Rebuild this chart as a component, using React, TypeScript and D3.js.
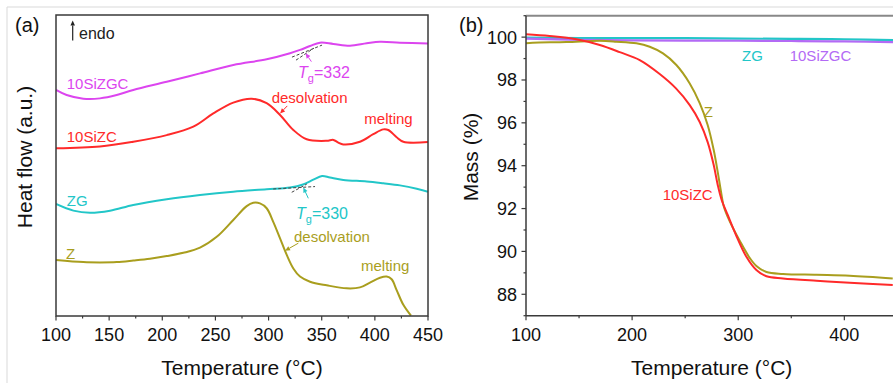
import React from 'react';
import * as d3 from 'd3';

const W = 893;
const H = 383;
const FONT = "'Liberation Sans', Arial, Helvetica, sans-serif";

// ---------- Panel (a): DSC heat flow (a.u.) vs temperature (°C) ----------
const tempTicksA = [100, 150, 200, 250, 300, 350, 400, 450];
const tempMinorA = [125, 175, 225, 275, 325, 375, 425];

const dsc10SiZGC: [number, number][] = [
  [100, 75.1], [110, 73.4], [125.7, 72.2], [141.4, 72.3], [157.1, 73.4], [172.7, 75.1],
  [204.2, 77.8], [235.5, 80.6], [266.8, 83.4], [298.2, 85.3], [320.2, 87.3], [329.6, 88.4],
  [339, 89.7], [348.4, 90.8], [360.9, 90.4], [376.6, 89.8], [392.3, 90.6], [404.8, 91.1],
  [423.6, 90.8], [450, 90.5],
];
const dsc10SiZC: [number, number][] = [
  [100, 55.7], [141.4, 56.3], [172.7, 57.9], [204.2, 60.1], [229.2, 62.9], [248, 67.3],
  [266.8, 70.9], [284.1, 72.2], [298.2, 70.7], [310.8, 66.8], [323.3, 61.8], [335.9, 58.7],
  [354.7, 58.2], [361, 58.5], [365.6, 57.6], [370.3, 57.0], [386, 57.9], [398.5, 60.4],
  [407.9, 62.0], [412.6, 61.8], [420.5, 59.4], [426.8, 57.9], [450, 57.8],
];
const dscZG: [number, number][] = [
  [100, 37.2], [116.3, 35.0], [132, 34.3], [150.8, 35.0], [172.7, 36.9], [204.2, 38.8],
  [235.5, 40.2], [266.8, 41.3], [298.2, 42.1], [320.2, 42.7], [332.4, 43.7], [342.1, 45.3],
  [350.3, 46.5], [357.8, 46.0], [370.3, 45.2], [392.3, 44.7], [407.9, 44.1], [423.6, 43.4],
  [439.4, 42.3], [450, 41.3],
];
const dscZ: [number, number][] = [
  [100, 18.6], [125.7, 17.9], [141.4, 17.8], [157.1, 17.9], [172.7, 18.4], [188.4, 19.0],
  [204.2, 19.9], [219.8, 21.0], [235.5, 22.7], [251.2, 26.3], [266.8, 31.9], [279.4, 36.5],
  [285.6, 37.6], [291.9, 37.4], [298.2, 35.8], [304.4, 31.3], [310.8, 25.8], [317.1, 20.3],
  [323.3, 15.8], [329.6, 13.1], [339, 11.4], [354.7, 10.2], [373.5, 9.2], [386, 9.5],
  [395.4, 11.1], [404.8, 12.7], [411.1, 13.1], [415.8, 12.2], [420.5, 8.6], [426.8, 3.7],
  [434, 0.1],
];

// ---------- Panel (b): TGA mass (%) vs temperature (°C) ----------
const tempTicksB = [100, 200, 300, 400];
const tempMinorB = [150, 250, 350, 450];
const massTicks = [88, 90, 92, 94, 96, 98, 100];
const massMinor = [87, 89, 91, 93, 95, 97, 99, 101];

const tga10SiZC: [number, number][] = [
  [100, 100.13], [122.3, 100.05], [147.5, 99.9], [169.5, 99.63], [188.3, 99.3], [207.2, 98.93],
  [226, 98.28], [241.1, 97.62], [254.3, 96.83], [263.7, 96.04], [271.2, 95.1], [276.9, 94.03],
  [280.7, 93.1], [284.4, 92.4], [290.1, 91.7], [298.3, 90.72], [307.7, 89.75], [317.1, 89.13],
  [326.6, 88.84], [342.2, 88.74], [373.7, 88.63], [405.1, 88.54], [445.6, 88.43],
];
const tgaZ: [number, number][] = [
  [100, 99.71], [106.3, 99.74], [138, 99.77], [169.5, 99.83], [185.2, 99.79], [204.1, 99.71],
  [216.6, 99.55], [229.1, 99.24], [241.7, 98.7], [254.3, 97.84], [263.7, 96.92], [271.2, 95.9],
  [276.9, 94.73], [280.7, 93.7], [283.5, 92.87], [286.4, 92.1], [292, 91.4], [301.4, 90.5],
  [310.9, 89.69], [317.1, 89.32], [326.6, 89.04], [342.2, 88.95], [373.7, 88.91], [405.1, 88.87],
  [445.6, 88.74],
];
const tgaZG: [number, number][] = [
  [100, 99.98], [150, 99.96], [200, 99.95], [250, 99.95], [300, 99.93], [350, 99.92],
  [400, 99.9], [450, 99.86],
];
const tga10SiZGC: [number, number][] = [
  [100, 99.93], [150, 99.87], [200, 99.85], [250, 99.84], [300, 99.83], [350, 99.82],
  [400, 99.8], [450, 99.76],
];

const C_MAG = '#dc45ef';
const C_RED = '#ff2a2a';
const C_CYAN = '#22c6c8';
const C_OLIVE = '#a99e1e';
const C_PURPLE = '#b36af5';
const AXIS = '#3a3a3a';

function Arrow({ x1, y1, x2, y2, color, head = 5, width = 1 }: any) {
  const ang = Math.atan2(y2 - y1, x2 - x1);
  const hw = head * 0.45;
  const bx = x2 - head * Math.cos(ang);
  const by = y2 - head * Math.sin(ang);
  const p1 = [bx + hw * Math.sin(ang), by - hw * Math.cos(ang)];
  const p2 = [bx - hw * Math.sin(ang), by + hw * Math.cos(ang)];
  return (
    <g>
      <line x1={x1} y1={y1} x2={bx} y2={by} stroke={color} strokeWidth={width} />
      <polygon points={`${x2},${y2} ${p1[0]},${p1[1]} ${p2[0]},${p2[1]}`} fill={color} />
    </g>
  );
}

function Tg({ x, y, value, color }: any) {
  return (
    <text x={x} y={y} fill={color} fontSize={16} fontFamily={FONT}>
      <tspan fontStyle="italic">T</tspan>
      <tspan fontSize={11} dy={4}>g</tspan>
      <tspan dy={-4}>={value}</tspan>
    </text>
  );
}

export default function App() {
  const xA = d3.scaleLinear().domain([100, 450]).range([56, 428]);
  const yA = d3.scaleLinear().domain([0, 100]).range([316, 15]);
  const xB = d3.scaleLinear().domain([100, 450]).range([526, 897.4]);
  const yB = d3.scaleLinear().domain([87, 101]).range([315.7, 15.7]);

  const curve = d3.curveCatmullRom.alpha(0.5);
  const lineA = d3.line<[number, number]>().x((d) => xA(d[0])).y((d) => yA(d[1])).curve(curve);
  const lineB = d3.line<[number, number]>().x((d) => xB(d[0])).y((d) => yB(d[1])).curve(curve);

  const aL = xA(100), aR = xA(450), aT = yA(100), aB = yA(0);
  const bL = xB(100), bR = W, bT = yB(101), bB = yB(87);

  return (
    <svg width={W} height={H} style={{ position: 'absolute', left: 0, top: 0, background: '#fff' }} fontFamily={FONT}>
      <rect x={0} y={0} width={W} height={H} fill="#fff" />
      {/* image border lines */}
      <line x1={7} y1={7} x2={W} y2={7} stroke="#d9d9d9" strokeWidth={1} />
      <line x1={7} y1={7} x2={7} y2={H} stroke="#d9d9d9" strokeWidth={1} />

      <defs>
        <clipPath id="clipA"><rect x={aL} y={aT} width={aR - aL} height={aB - aT} /></clipPath>
        <clipPath id="clipB"><rect x={bL} y={bT} width={bR - bL} height={bB - bT} /></clipPath>
      </defs>

      {/* ================= Panel (a) ================= */}
      <text x={15} y={32} fontSize={20} fill="#111">(a)</text>
      <g clipPath="url(#clipA)">
        <path d={lineA(dsc10SiZGC) || ''} fill="none" stroke={C_MAG} strokeWidth={2} />
        <path d={lineA(dsc10SiZC) || ''} fill="none" stroke={C_RED} strokeWidth={2} />
        <path d={lineA(dscZG) || ''} fill="none" stroke={C_CYAN} strokeWidth={2} />
        <path d={lineA(dscZ) || ''} fill="none" stroke={C_OLIVE} strokeWidth={2} />
      </g>
      {/* Tg tangents */}
      <line x1={xA(322)} y1={yA(86)} x2={xA(350.3)} y2={yA(90)} stroke="#444" strokeWidth={1} strokeDasharray="3,2" />
      <line x1={xA(325.8)} y1={yA(85)} x2={xA(342.7)} y2={yA(89)} stroke="#444" strokeWidth={1} strokeDasharray="3,2" />
      <line x1={xA(304.4)} y1={yA(42.2)} x2={xA(343.7)} y2={yA(43)} stroke="#444" strokeWidth={1} strokeDasharray="3,2" />
      <line x1={xA(321.8)} y1={yA(41.1)} x2={xA(335.9)} y2={yA(43.8)} stroke="#444" strokeWidth={1} strokeDasharray="3,2" />
      <Arrow x1={xA(340.3)} y1={yA(84.5)} x2={xA(334.9)} y2={yA(87.3)} color={C_MAG} />
      <Arrow x1={xA(337.4)} y1={yA(39.1)} x2={xA(332.7)} y2={yA(42.7)} color={C_CYAN} />
      <Arrow x1={xA(317.6)} y1={yA(69.8)} x2={xA(310.8)} y2={yA(67.3)} color={C_RED} />
      <Arrow x1={xA(328)} y1={yA(24.2)} x2={xA(315.5)} y2={yA(21.7)} color={C_OLIVE} />

      <Tg x={xA(327.7)} y={yA(79)} value={332} color={C_MAG} />
      <Tg x={xA(325.8)} y={yA(32.2)} value={330} color={C_CYAN} />

      <g fontSize={15}>
        <text x={xA(110.1)} y={yA(75.4)} fill={C_MAG}>10SiZGC</text>
        <text x={xA(110.1)} y={yA(57.9)} fill={C_RED}>10SiZC</text>
        <text x={xA(110.1)} y={yA(36.5)} fill={C_CYAN}>ZG</text>
        <text x={xA(109.5)} y={yA(18.9)} fill={C_OLIVE}>Z</text>
        <text x={xA(302.9)} y={yA(70.7)} fill={C_RED}>desolvation</text>
        <text x={xA(390.1)} y={yA(63.8)} fill={C_RED}>melting</text>
        <text x={xA(323.9)} y={yA(24.7)} fill={C_OLIVE}>desolvation</text>
        <text x={xA(387)} y={yA(15)} fill={C_OLIVE}>melting</text>
      </g>

      {/* endo arrow */}
      <Arrow x1={72.7} y1={40.5} x2={72.7} y2={20.5} color="#222" head={5} width={1.2} />
      <text x={79} y={38.5} fontSize={16} fill="#222">endo</text>

      {/* frame */}
      <rect x={aL} y={aT} width={aR - aL} height={aB - aT} fill="none" stroke={AXIS} strokeWidth={1.5} />
      {tempTicksA.map((t) => (
        <g key={'ta' + t}>
          <line x1={xA(t)} x2={xA(t)} y1={aB} y2={aB + 4.5} stroke={AXIS} strokeWidth={1.2} />
          <text x={xA(t)} y={340.5} fontSize={18} textAnchor="middle" fill="#111">{t}</text>
        </g>
      ))}
      {tempMinorA.map((t) => (
        <line key={'tma' + t} x1={xA(t)} x2={xA(t)} y1={aB} y2={aB + 2.5} stroke={AXIS} strokeWidth={1.2} />
      ))}
      <text x={(aL + aR) / 2} y={375} fontSize={21} textAnchor="middle" fill="#111">Temperature (°C)</text>
      <text transform={`translate(32,157) rotate(-90)`} fontSize={21} textAnchor="middle" fill="#111">Heat flow (a.u.)</text>

      {/* ================= Panel (b) ================= */}
      <text x={459} y={32} fontSize={20} fill="#111">(b)</text>
      <g clipPath="url(#clipB)">
        <path d={lineB(tgaZG) || ''} fill="none" stroke={C_CYAN} strokeWidth={2.2} />
        <path d={lineB(tga10SiZGC) || ''} fill="none" stroke={C_PURPLE} strokeWidth={2.2} />
        <path d={lineB(tgaZ) || ''} fill="none" stroke={C_OLIVE} strokeWidth={2} />
        <path d={lineB(tga10SiZC) || ''} fill="none" stroke={C_RED} strokeWidth={2} />
      </g>
      <g fontSize={15}>
        <text x={xB(303.6)} y={yB(98.9)} fill={C_CYAN}>ZG</text>
        <text x={xB(348.5)} y={yB(98.9)} fill={C_PURPLE}>10SiZGC</text>
        <text x={xB(267.5)} y={yB(96.27)} fill={C_OLIVE}>Z</text>
        <text x={xB(228.8)} y={yB(92.4)} fill={C_RED}>10SiZC</text>
      </g>

      {/* axes */}
      <line x1={bL} y1={bT} x2={bR} y2={bT} stroke="#888" strokeWidth={2} />
      <line x1={bL} y1={bT} x2={bL} y2={bB} stroke={AXIS} strokeWidth={1.5} />
      <line x1={bL} y1={bB} x2={bR} y2={bB} stroke={AXIS} strokeWidth={1.5} />
      {massTicks.map((m) => (
        <g key={'my' + m}>
          <line x1={bL - 4.5} x2={bL} y1={yB(m)} y2={yB(m)} stroke={AXIS} strokeWidth={1.2} />
          <text x={517} y={yB(m)} dy="0.36em" fontSize={18} textAnchor="end" fill="#111">{m}</text>
        </g>
      ))}
      {massMinor.map((m) => (
        <line key={'mmy' + m} x1={bL - 2.5} x2={bL} y1={yB(m)} y2={yB(m)} stroke={AXIS} strokeWidth={1.2} />
      ))}
      {tempTicksB.map((t) => (
        <g key={'tb' + t}>
          <line x1={xB(t)} x2={xB(t)} y1={bB} y2={bB + 4.5} stroke={AXIS} strokeWidth={1.2} />
          <text x={xB(t)} y={340.5} fontSize={18} textAnchor="middle" fill="#111">{t}</text>
        </g>
      ))}
      {tempMinorB.map((t) => (
        <line key={'tmb' + t} x1={xB(t)} x2={xB(t)} y1={bB} y2={bB + 2.5} stroke={AXIS} strokeWidth={1.2} />
      ))}
      <text x={(xB(100) + xB(450)) / 2} y={375} fontSize={21} textAnchor="middle" fill="#111">Temperature (°C)</text>
      <text transform={`translate(478,157) rotate(-90)`} fontSize={21} textAnchor="middle" fill="#111">Mass (%)</text>
    </svg>
  );
}
